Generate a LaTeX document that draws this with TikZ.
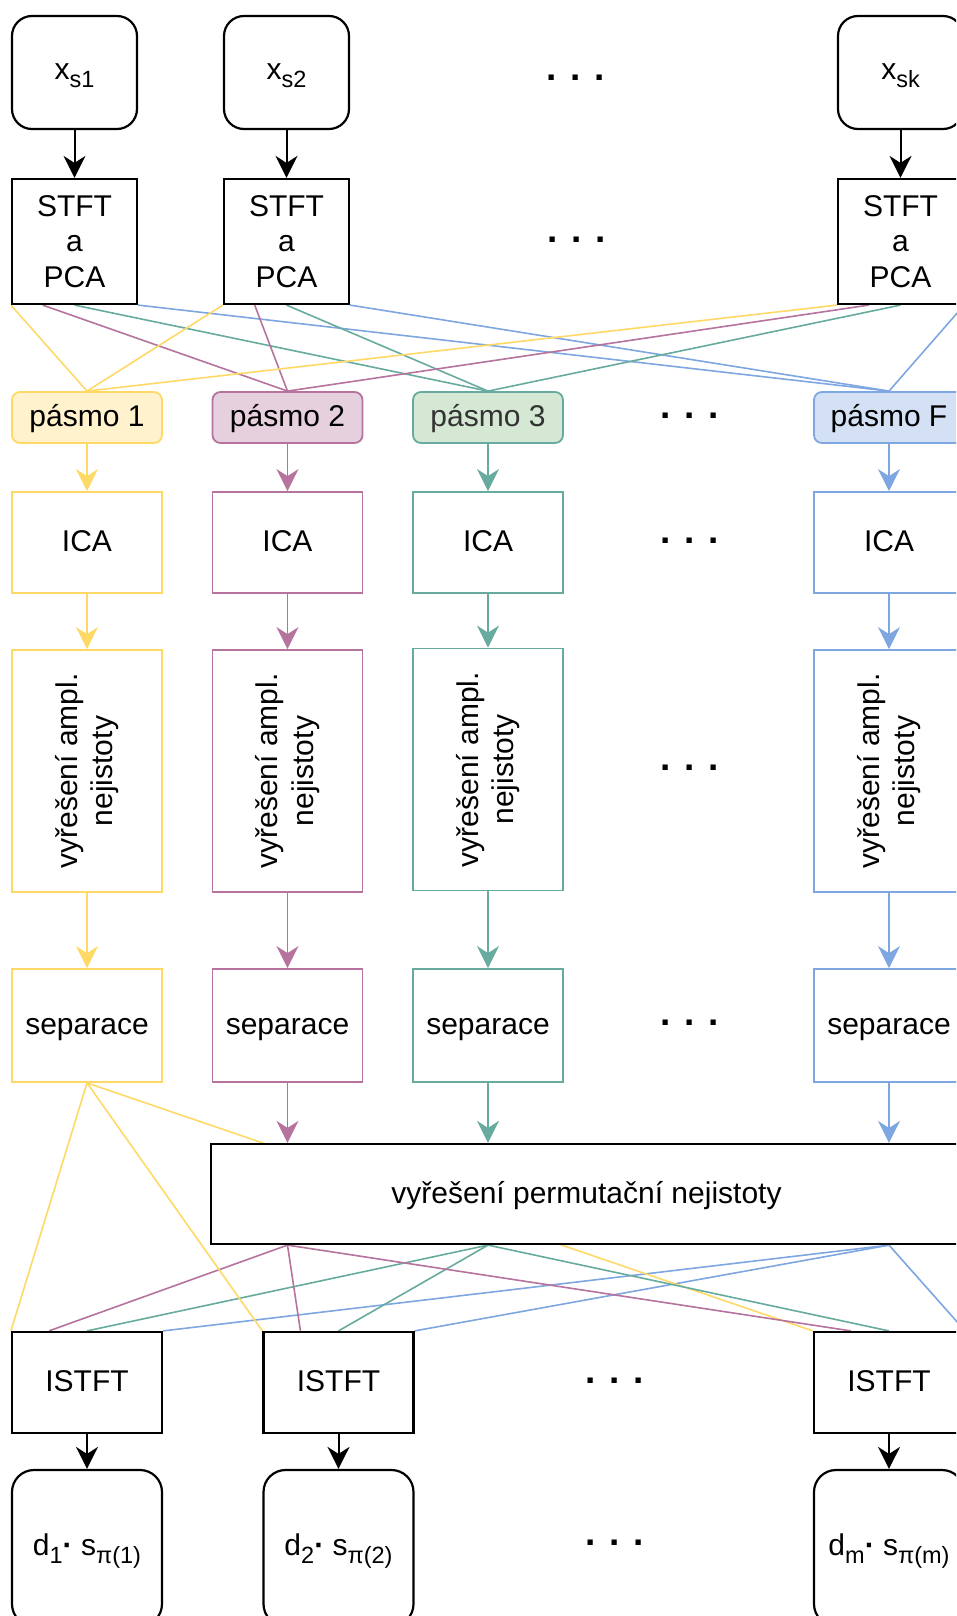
\documentclass[tikz,border=0pt]{standalone}
\usepackage{fontspec}
\setmainfont{Liberation Sans}
\usetikzlibrary{arrows.meta,calc,backgrounds}
\definecolor{cyS}{HTML}{FFD966}\definecolor{cyF}{HTML}{FFF2CC}
\definecolor{cpS}{HTML}{B5739D}\definecolor{cpF}{HTML}{E6D0DE}
\definecolor{cgS}{HTML}{67AB9F}\definecolor{cgF}{HTML}{D5E8D4}
\definecolor{cbS}{HTML}{7EA6E0}\definecolor{cbF}{HTML}{D4E1F5}
\definecolor{txtgray}{HTML}{333333}
\newcommand\mysub[1]{\raisebox{-8pt}{\fontsize{23.5}{23.5}\selectfont #1}}
\tikzset{
  txt/.style={font=\fontsize{30}{35.5}\selectfont, align=center, inner sep=0pt},
  blkbox/.style={txt, draw=black, line width=2.2pt, fill=white},
  colbox/.style={txt, draw=#1, line width=1.8pt, fill=white},
  subtxt/.style={text height=21pt, text depth=6pt},
  onetxt/.style={text height=25pt, text depth=7pt},
  xsbox/.style={blkbox, subtxt, rounded corners=20pt, minimum width=125pt, minimum height=113pt},
  stftbox/.style={blkbox, minimum width=125pt, minimum height=125pt},
  band/.style={txt, onetxt, draw=#1, line width=1.8pt, rounded corners=8pt, minimum width=150pt, minimum height=51pt},
  icabox/.style={colbox=#1, onetxt, minimum width=150pt, minimum height=101pt},
  ampbox/.style={colbox=#1, minimum width=150pt, minimum height=242pt},
  sepbox/.style={colbox=#1, onetxt, minimum width=150pt, minimum height=113pt},
  permbox/.style={blkbox, onetxt, minimum width=751pt, minimum height=100pt},
  istftbox/.style={blkbox, onetxt, minimum width=150pt, minimum height=101pt},
  outbox/.style={blkbox, subtxt, rounded corners=22pt, minimum width=150pt, minimum height=156pt},
  rottxt/.style={txt, rotate=90},
  dots/.style={font=\fontsize{37}{37}\selectfont\bfseries, inner sep=0pt, anchor=base},
  arr/.style={-{Stealth[length=22pt,width=22pt,inset=7pt]}, line width=2pt},
  con/.style={line width=1.6pt},
}
\begin{document}
\begin{tikzpicture}[x=1pt,y=-1pt]
\useasboundingbox (0,0) rectangle (956,1616);
\clip (0,0) rectangle (956,1616);

% inputs
\node[xsbox] (xs1) at (74.5,72.5) {x\mysub{s1}};
\node[xsbox] (xs2) at (286.5,72.5) {x\mysub{s2}};
\node[xsbox] (xsk) at (900.5,72.5) {x\mysub{sk}};
\node[dots] (d1) at (576,80.5) {. . .};

% STFT
\node[stftbox] (st1) at (74.5,241.5) {STFT\\a\\PCA};
\node[stftbox] (st2) at (286.5,241.5) {STFT\\a\\PCA};
\node[stftbox] (stk) at (900.5,241.5) {STFT\\a\\PCA};
\node[dots] (d2) at (577,242.5) {. . .};

% bands
\node[band=cyS, fill=cyF] (p1) at (87,417.5) {pásmo 1};
\node[band=cpS, fill=cpF] (p2) at (287.5,417.5) {pásmo 2};
\node[band=cgS, fill=cgF, text=txtgray] (p3) at (488,417.5) {pásmo 3};
\node[band=cbS, fill=cbF] (pF) at (889,417.5) {pásmo F};
\node[dots] (d3) at (690,418.5) {. . .};

% ICA
\node[icabox=cyS] (i1) at (87,542.5) {ICA};
\node[icabox=cpS] (i2) at (287.5,542.5) {ICA};
\node[icabox=cgS] (i3) at (488,542.5) {ICA};
\node[icabox=cbS] (iF) at (889,542.5) {ICA};
\node[dots] (d4) at (690,543.5) {. . .};

% amplitude
\node[ampbox=cyS] (a1) at (87,771) {};
\node[ampbox=cpS] (a2) at (287.5,771) {};
\node[ampbox=cgS] (a3) at (488,769.5) {};
\node[ampbox=cbS] (aF) at (889,771) {};
\node[rottxt] (a1t) at (a1.center) {vyřešení ampl.\\nejistoty};
\node[rottxt] (a2t) at (a2.center) {vyřešení ampl.\\nejistoty};
\node[rottxt] (a3t) at (a3.center) {vyřešení ampl.\\nejistoty};
\node[rottxt] (aFt) at (aF.center) {vyřešení ampl.\\nejistoty};
\node[dots] (d5) at (690,770.5) {. . .};

% separation
\node[sepbox=cyS] (s1) at (87,1025.5) {separace};
\node[sepbox=cpS] (s2) at (287.5,1025.5) {separace};
\node[sepbox=cgS] (s3) at (488,1025.5) {separace};
\node[sepbox=cbS] (sF) at (889,1025.5) {separace};
\node[dots] (d6) at (690,1025.5) {. . .};

% permutation
\node[permbox] (perm) at (586.5,1194) {vyřešení permutační nejistoty};

% ISTFT
\node[istftbox] (is1) at (87,1382.5) {ISTFT};
\node[istftbox] (is2) at (338.5,1382.5) {ISTFT};
\node[istftbox] (ism) at (889,1382.5) {ISTFT};
\node[dots] (d7) at (615,1383.5) {. . .};

% outputs
\node[outbox] (o1) at (87,1548) {d\mysub{1}\textbf{·} s\mysub{π(1)}};
\node[outbox] (o2) at (338.5,1548) {d\mysub{2}\textbf{·} s\mysub{π(2)}};
\node[outbox] (om) at (889,1548) {d\mysub{m}\textbf{·} s\mysub{π(m)}};
\node[dots] (d8) at (615,1545.5) {. . .};

% crossing connectors (behind boxes)
\begin{scope}[on background layer]
\foreach \s in {st1,st2,stk} {
  \draw[con, cyS] (\s.south west) -- (p1.north);
  \draw[con, cpS] ($(\s.south west)!0.25!(\s.south east)$) -- (p2.north);
  \draw[con, cgS] (\s.south) -- (p3.north);
  \draw[con, cbS] (\s.south east) -- (pF.north);
}
\foreach \t in {is1,is2,ism} {
  \draw[con, cyS] (s1.south) -- (\t.north west);
  \draw[con, cpS] (perm.south -| s2.south) -- ($(\t.north west)!0.25!(\t.north east)$);
  \draw[con, cgS] (perm.south -| s3.south) -- (\t.north);
  \draw[con, cbS] (perm.south -| sF.south) -- (\t.north east);
}
\end{scope}

% arrows
\draw[arr] (xs1) -- (st1);
\draw[arr] (xs2) -- (st2);
\draw[arr] (xsk) -- (stk);
\foreach \c/\col in {1/cyS,2/cpS,3/cgS,F/cbS} {
  \draw[arr, \col, line width=1.8pt] (p\c) -- (i\c);
  \draw[arr, \col, line width=1.8pt] (i\c.south) -- (a\c.north);
  \draw[arr, \col, line width=1.8pt] (a\c.south) -- (s\c.north);
}
\draw[arr, cpS, line width=1.8pt] (s2.south) -- (perm.north -| s2.south);
\draw[arr, cgS, line width=1.8pt] (s3.south) -- (perm.north -| s3.south);
\draw[arr, cbS, line width=1.8pt] (sF.south) -- (perm.north -| sF.south);
\draw[arr] (is1) -- (o1);
\draw[arr] (is2) -- (o2);
\draw[arr] (ism) -- (om);
\end{tikzpicture}
\end{document}
